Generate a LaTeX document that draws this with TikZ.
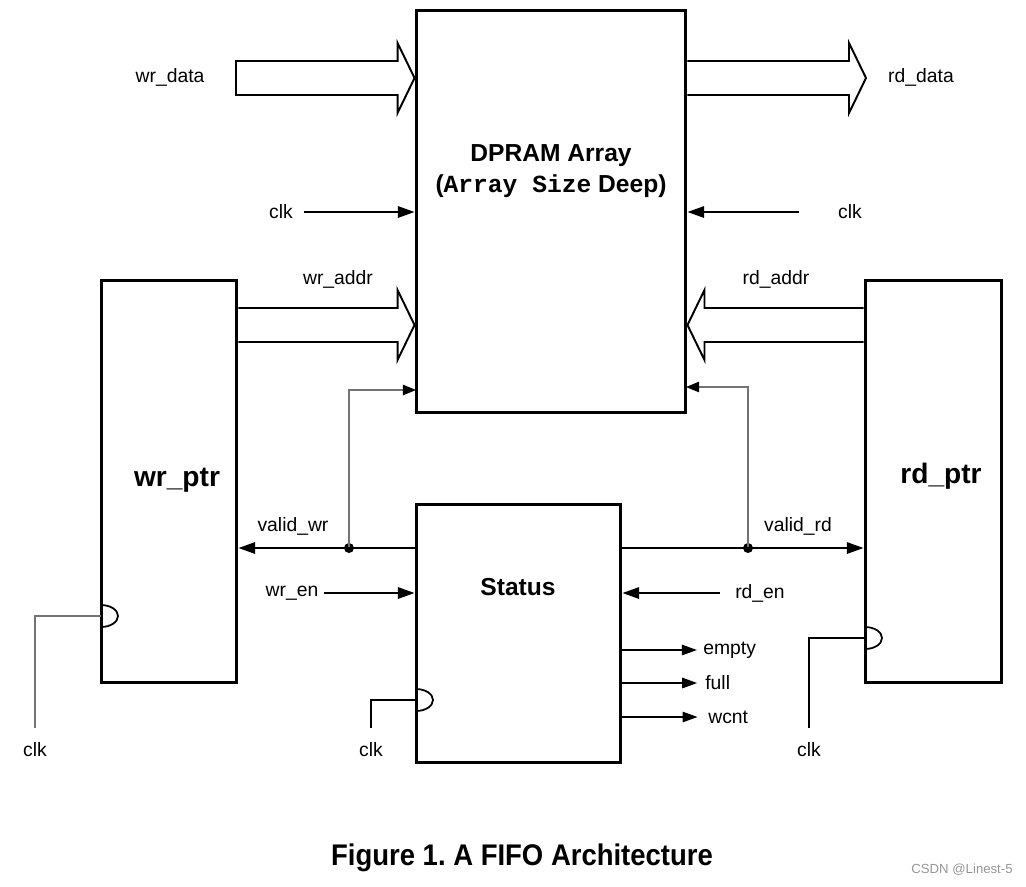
\documentclass[tikz,border=0pt]{standalone}
\usepackage{fontspec}
\setmainfont{Liberation Sans}
\setmonofont{Liberation Mono}
\usepackage{tikz}
\usetikzlibrary{arrows.meta,calc,positioning}
\definecolor{wiregray}{RGB}{115,115,115}
\definecolor{markgray}{RGB}{150,150,150}
\frenchspacing

% wide bus arrow: tail, tip, direction (1 = right, -1 = left), closing
\newcommand{\busarrow}[4]{%
  \draw[bus] let \p1=(#1), \p2=(#2) in
    (\x1,{\y2+0.34cm}) -- ({\x2-(#3)*0.34cm},{\y2+0.34cm}) -- ({\x2-(#3)*0.34cm},{\y2+0.7cm})
    -- (\x2,\y2) -- ({\x2-(#3)*0.34cm},{\y2-0.7cm}) -- ({\x2-(#3)*0.34cm},{\y2-0.34cm})
    -- (\x1,{\y2-0.34cm}) #4;}

\begin{document}
\begin{tikzpicture}[x=0.02cm, y=-0.02cm,
        block/.style={draw, line width=1.7pt, inner sep=0pt},
        lbl/.style={font=\fontsize{11}{13}\selectfont, inner sep=0pt},
        title/.style={font=\fontsize{14}{18}\selectfont\bfseries, align=center, inner sep=0pt},
        ptrname/.style={font=\fontsize{16}{19}\selectfont\bfseries, inner sep=0pt},
        sig/.style={line width=1.1pt, -{Triangle[length=9.5pt, width=6.5pt]}},
        sigthin/.style={line width=0.7pt, -{Triangle[length=8.5pt, width=6pt]}},
        fb/.style={wiregray, line width=0.6pt, -{Triangle[length=7.5pt, width=6pt, color=black]}},
        bus/.style={line width=1.1pt, line join=miter},
        ckwire/.style={line width=0.7pt},
        bump/.style={line width=1pt},
        dot/.style={circle, fill, inner sep=0pt, minimum size=0.2cm}
    ]
        \useasboundingbox (0,0) rectangle (1026,886);

        % blocks
        \node[block, minimum width=5.4cm, minimum height=8.06cm] (ram) at (551,211.5) {};
        \node[block, minimum width=2.72cm, minimum height=8.06cm] (wrp) at (169,481.5) {};
        \node[block, minimum width=2.72cm, minimum height=8.06cm] (rdp) at (933,481.5) {};
        \node[block, minimum width=4.1cm, minimum height=5.18cm] (st) at (518.5,633.5) {};

        \node[title] (ramlbl) at (551,171) {DPRAM Array\\(\texttt{Array Size} Deep)};
        \node[ptrname] (wrplbl) at (177,480) {wr\_ptr};
        \node[ptrname] (rdplbl) at (941,476) {rd\_ptr};
        \node[title] (stlbl) at (518,587) {Status};

        % data buses
        \coordinate (wrd) at (236,78);
        \coordinate (rdd) at (866,78);
        \coordinate (adr) at (551,325);
        \busarrow{wrd}{wrd -| ram.west}{1}{-- cycle}
        \busarrow{rdd -| ram.east}{rdd}{1}{}
        \busarrow{adr -| wrp.east}{adr -| ram.west}{1}{}
        \busarrow{adr -| rdp.west}{adr -| ram.east}{-1}{}
        \node[lbl] (wrdlbl) at (170,77) {wr\_data};
        \node[lbl] (rddlbl) at (921,77) {rd\_data};
        \node[lbl] (wralbl) at (338,279) {wr\_addr};
        \node[lbl] (rdalbl) at (776,279) {rd\_addr};

        % clocks into the RAM
        \node[lbl] (ckl) at (281,212) {clk};
        \node[lbl] (ckr) at (850,212) {clk};
        \draw[sig] ([xshift=6pt]ckl.east) -- (ckl.east -| ram.west);
        \draw[sig] ([xshift=-22pt]ckr.west) -- (ckr.west -| ram.east);

        % valid lines with feedback to the RAM
        \coordinate (wfb) at (416,390);
        \coordinate (rfb) at (686,387);
        \node[dot] (vwd) at (349,548) {};
        \node[dot] (vrd) at (748,548) {};
        \draw[fb] (vwd.center) |- (wfb);
        \draw[fb] (vrd.center) |- (rfb);
        \draw[sig] (st.west |- vwd) -- (wrp.east |- vwd);
        \draw[sig] (st.east |- vrd) -- (rdp.west |- vrd);
        \node[lbl] (vwlbl) at (293,526) {valid\_wr};
        \node[lbl] (vrlbl) at (798,526) {valid\_rd};

        % enables
        \node[lbl] (wen) at (292,593) {wr\_en};
        \node[lbl] (ren) at (760,593) {rd\_en};
        \draw[sig] ([xshift=3pt]wen.east) -- (wen.east -| st.west);
        \draw[sig] ([xshift=-8.5pt]ren.west) -- (ren.west -| st.east);

        % status outputs
        \node[lbl, anchor=west] (emp) at (703,650) {empty};
        \node[lbl, anchor=west] (ful) at (705,683) {full};
        \node[lbl, anchor=west] (wcn) at (708,717) {wcnt};
        \draw[sigthin] (st.east |- emp.west) -- ([xshift=-3.5pt]emp.west);
        \draw[sigthin] (st.east |- ful.west) -- ([xshift=-4.5pt]ful.west);
        \draw[sigthin] (st.east |- wcn.west) -- ([xshift=-6pt]wcn.west);

        % clock inputs with edge marks
        \coordinate (wck) at (101,616);
        \coordinate (sck) at (416,700);
        \coordinate (rck) at (865,638);
        \node[lbl] (ckw) at (35,750) {clk};
        \node[lbl] (cks) at (371,750) {clk};
        \node[lbl] (ckd) at (809,750) {clk};
        \draw[ckwire, wiregray] (wck) -| ([yshift=0.3cm]ckw.north);
        \draw[ckwire] (sck) -| ([yshift=0.3cm]cks.north);
        \draw[ckwire, line width=0.9pt] (rck) -| ([yshift=0.3cm]ckd.north);
        \foreach \c in {wck,sck,rck}
            \draw[bump] ([yshift=0.22cm]\c) arc[start angle=90, end angle=-90, x radius=0.34cm, y radius=0.22cm];

        \node[font=\fontsize{17}{20}\selectfont\bfseries] (cap) at (522,858) {\scalebox{0.92}[1]{Figure 1. A FIFO Architecture}};
        \node[font=\fontsize{7.5}{9}\selectfont, text=markgray] (mark) at (962,870) {CSDN @Linest-5};
    \end{tikzpicture}
\end{document}
